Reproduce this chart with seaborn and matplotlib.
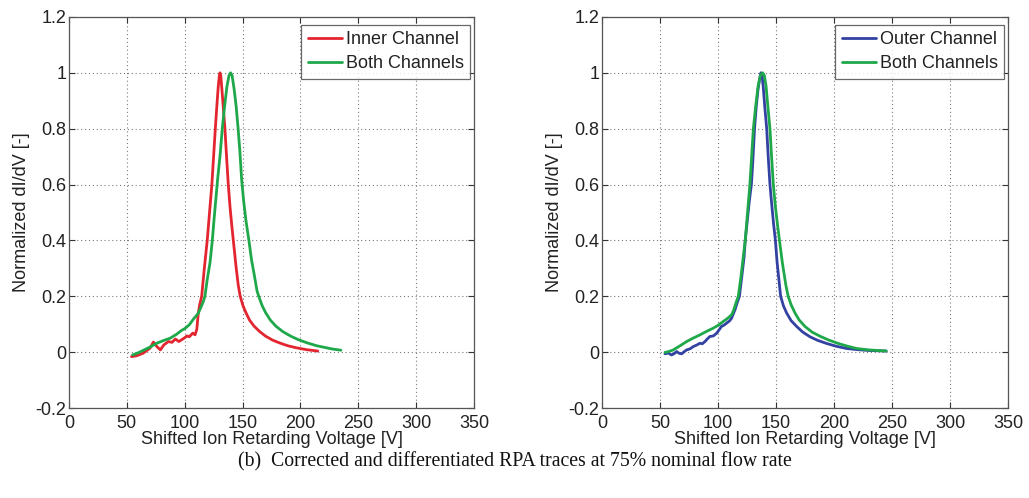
import matplotlib
matplotlib.use("Agg")
import matplotlib.pyplot as plt
import seaborn as sns
import pandas as pd

# ---------------- data ----------------
inner_v = [54, 58.5, 64, 70, 73, 76, 79, 82, 86, 89, 92, 95, 99.5, 102, 104, 107, 109,
           110.5, 111.8, 113, 114.7, 117, 119.5, 121.5, 123.5, 125, 126.5, 127.8, 129,
           130, 130.5, 131.2, 132.2, 133.5, 134.8, 136.2, 137.7, 139.2, 140.8, 142.3,
           144.3, 146.3, 148, 150.5, 153, 156, 160, 165, 170, 176, 182, 189, 196, 205,
           215]
inner_y = [-0.016, -0.013, -0.004, 0.014, 0.036, 0.02, 0.008, 0.026, 0.038, 0.035,
           0.047, 0.038, 0.05, 0.058, 0.055, 0.068, 0.062, 0.082, 0.14, 0.17, 0.2, 0.3,
           0.4, 0.5, 0.6, 0.7, 0.8, 0.88, 0.95, 0.99, 1.0, 0.99, 0.94, 0.87, 0.8, 0.7,
           0.6, 0.52, 0.45, 0.39, 0.31, 0.24, 0.2, 0.165, 0.141, 0.115, 0.093, 0.073,
           0.057, 0.043, 0.033, 0.023, 0.016, 0.009, 0.004]

both_l_v = [55, 60, 64, 70, 76, 82, 87.5, 93, 97.4, 100, 104, 107.5, 110, 111.8, 114,
            116, 117.5, 119.5, 121.9, 123.9, 125.5, 127, 128.5, 130.5, 132.5, 134.5,
            136.5, 138.3, 139.7, 141, 142.8, 144.5, 146.2, 147.7, 149.2, 151, 153, 155.5,
            157.8, 160, 162.5, 164, 167, 170, 174, 178.8, 185, 191.8, 198, 206, 214, 222,
            228, 235]
both_l_y = [-0.01, -0.002, 0.006, 0.018, 0.032, 0.042, 0.05, 0.064, 0.078, 0.084,
            0.098, 0.118, 0.13, 0.14, 0.16, 0.18, 0.2, 0.26, 0.32, 0.4, 0.48, 0.55, 0.62,
            0.7, 0.8, 0.88, 0.95, 0.99, 1.0, 0.99, 0.94, 0.88, 0.8, 0.72, 0.62, 0.54,
            0.47, 0.4, 0.33, 0.28, 0.22, 0.2, 0.166, 0.141, 0.115, 0.093, 0.073, 0.057,
            0.045, 0.033, 0.023, 0.016, 0.011, 0.007]

outer_v = [54.3, 57, 60, 62, 64.4, 66.5, 68.7, 71, 73, 76, 78.7, 81.5, 84.5, 86.5,
           88.8, 91, 93, 96, 98.9, 101, 103, 105, 107.5, 110, 111.8, 113.5, 114.7, 116,
           118.5, 120.5, 122.5, 123.5, 125.5, 127, 128.8, 130, 131.5, 133, 134.5, 136,
           137, 138, 139, 140.3, 142, 143.3, 144.8, 146.3, 147.9, 149.5, 151, 152.5,
           154, 156.5, 159.2, 163, 167.8, 173, 179.3, 186, 193.7, 202, 211, 220, 230, 245]
outer_y = [-0.006, -0.003, -0.01, -0.006, 0.002, -0.004, -0.006, 0.002, 0.008, 0.012,
           0.02, 0.025, 0.032, 0.03, 0.038, 0.048, 0.056, 0.058, 0.068, 0.08, 0.092,
           0.096, 0.104, 0.112, 0.122, 0.14, 0.152, 0.17, 0.2, 0.27, 0.34, 0.4, 0.48,
           0.54, 0.6, 0.68, 0.8, 0.88, 0.94, 0.98, 1.0, 0.99, 0.95, 0.88, 0.8, 0.7, 0.6,
           0.53, 0.46, 0.4, 0.32, 0.26, 0.2, 0.165, 0.14, 0.113, 0.092, 0.072, 0.055,
           0.042, 0.031, 0.021, 0.013, 0.009, 0.006, 0.004]

both_r_v = [54.3, 57.5, 61.5, 67, 73, 78.5, 84.5, 90, 96, 100.5, 104.6, 108, 111.8,
            113.5, 115.5, 117.5, 119.5, 121.5, 123.5, 125.5, 127.5, 129, 130.5, 132.5,
            134.5, 136.5, 138.5, 140, 141.5, 143, 144.8, 146.2, 147.7, 149.5, 151.2, 153,
            155.5, 158.5, 160.5, 163, 166.4, 170, 175, 181, 188, 195, 203.7, 211, 219.5,
            230, 245]
both_r_y = [-0.001, 0.002, 0.008, 0.022, 0.038, 0.05, 0.062, 0.074, 0.086, 0.097, 0.11,
            0.12, 0.134, 0.15, 0.176, 0.2, 0.26, 0.33, 0.4, 0.5, 0.6, 0.7, 0.8, 0.88,
            0.95, 0.99, 1.0, 0.99, 0.95, 0.88, 0.8, 0.7, 0.6, 0.52, 0.46, 0.4, 0.32, 0.24,
            0.2, 0.17, 0.14, 0.115, 0.092, 0.072, 0.057, 0.044, 0.031, 0.022, 0.013,
            0.008, 0.004]

x_ticks = [0, 50, 100, 150, 200, 250, 300, 350]
y_ticks = [-0.2, 0, 0.2, 0.4, 0.6, 0.8, 1.0, 1.2]
y_tick_labels = ["-0.2", "0", "0.2", "0.4", "0.6", "0.8", "1", "1.2"]

RED = "#e2252f"
GREEN = "#1ea84a"
BLUE = "#3342a2"

sns.set_theme(style="white")
plt.rcParams["font.family"] = ["Liberation Sans", "DejaVu Sans"]

FS = 13

fig = plt.figure(figsize=(10.29, 4.98), dpi=100)
ax1 = fig.add_axes([0.067, 0.1807, 0.3936, 0.7853])
ax2 = fig.add_axes([0.585, 0.1807, 0.3946, 0.7853])


def style(ax):
    ax.set_xlim(0, 350)
    ax.set_ylim(-0.2, 1.2)
    ax.set_xticks(x_ticks)
    ax.set_xticklabels([str(t) for t in x_ticks])
    ax.set_yticks(y_ticks)
    ax.set_yticklabels(y_tick_labels)
    ax.grid(True, linestyle=(0, (1, 2.5)), color="#7a7a7a", linewidth=0.8)
    ax.tick_params(direction="in", length=4, width=0.8, colors="#333333",
                   labelsize=FS, labelcolor="#222222", top=True, right=True,
                   bottom=True, left=True)
    ax.tick_params(axis="x", pad=5)
    ax.tick_params(axis="y", pad=2)
    for s in ax.spines.values():
        s.set_color("#555555")
        s.set_linewidth(0.9)
    ax.set_xlabel("Shifted Ion Retarding Voltage [V]", fontsize=FS, color="#222222", labelpad=-1)
    ax.set_ylabel("Normalized dI/dV [-]", fontsize=FS, color="#222222", labelpad=4)


df1 = pd.DataFrame({"v": inner_v, "y": inner_y})
df2 = pd.DataFrame({"v": both_l_v, "y": both_l_y})
df3 = pd.DataFrame({"v": outer_v, "y": outer_y})
df4 = pd.DataFrame({"v": both_r_v, "y": both_r_y})

LW = 2.0
sns.lineplot(data=df1, x="v", y="y", ax=ax1, color=RED, linewidth=LW,
             sort=False, estimator=None, label="Inner Channel")
sns.lineplot(data=df2, x="v", y="y", ax=ax1, color=GREEN, linewidth=LW,
             sort=False, estimator=None, label="Both Channels")
sns.lineplot(data=df3, x="v", y="y", ax=ax2, color=BLUE, linewidth=LW,
             sort=False, estimator=None, label="Outer Channel")
sns.lineplot(data=df4, x="v", y="y", ax=ax2, color=GREEN, linewidth=LW,
             sort=False, estimator=None, label="Both Channels")

for ax in (ax1, ax2):
    style(ax)
    leg = ax.legend(loc="upper right", bbox_to_anchor=(0.99, 0.98), fontsize=13,
                    frameon=True, fancybox=False, handlelength=1.9, handletextpad=0.2,
                    borderpad=0.35, labelspacing=0.4, borderaxespad=0.0)
    leg.get_frame().set_edgecolor("#444444")
    leg.get_frame().set_linewidth(0.9)
    for t in leg.get_texts():
        t.set_color("#222222")

fig.text(0.5, 0.072, "(b)  Corrected and differentiated RPA traces at 75% nominal flow rate",
         ha="center", va="center", fontsize=14.2, family=["Liberation Serif", "DejaVu Serif"],
         color="#111111")

fig.savefig("out.png", dpi=100)
